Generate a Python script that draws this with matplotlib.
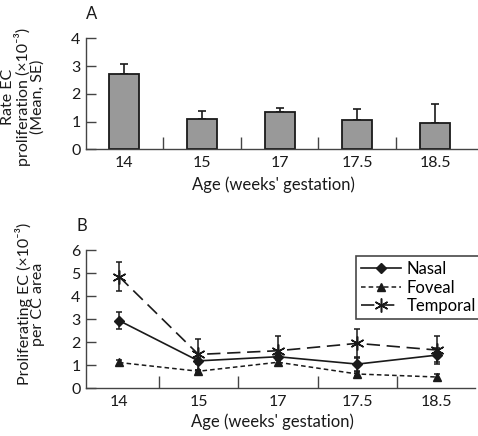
import matplotlib
matplotlib.use("Agg")
import matplotlib.pyplot as plt
import numpy as np
from matplotlib.ticker import FixedLocator

plt.rcParams['font.family'] = ['Lato', 'DejaVu Sans']

ages = ["14", "15", "17", "17.5", "18.5"]

# Panel A
rate_mean = [2.72, 1.09, 1.36, 1.07, 0.95]
rate_se = [0.36, 0.28, 0.14, 0.37, 0.70]

# Panel B
nasal = [2.94, 1.19, 1.37, 1.05, 1.44]
nasal_se = [0.35, 0.12, 0.12, 0.30, 0.32]
foveal = [1.12, 0.74, 1.13, 0.62, 0.49]
foveal_se = [0.10, 0.07, 0.10, 0.09, 0.14]
temporal = [4.85, 1.47, 1.63, 1.95, 1.66]
temporal_se = [0.64, 0.66, 0.62, 0.63, 0.59]

ink = '#1a1a1a'
axcol = '#444444'

fig = plt.figure(figsize=(4.78, 4.36), dpi=100)
axA = fig.add_axes([86/478, 1-149.3/436, 391/478, 111/436])
axB = fig.add_axes([86/478, 1-388.3/436, 389/478, 138.3/436])

x = np.arange(len(ages))

def style(ax, ymax):
    for s in ['top', 'right']:
        ax.spines[s].set_visible(False)
    for s in ['left', 'bottom']:
        ax.spines[s].set_color(axcol)
        ax.spines[s].set_linewidth(1.0)
    ax.set_ylim(0, ymax)
    ax.set_yticks(range(0, ymax+1))
    ax.set_xticks(x)
    ax.set_xticklabels(ages)
    ax.xaxis.set_minor_locator(FixedLocator(x[:-1] + 0.5))
    ax.tick_params(axis='x', which='major', length=0, pad=5, labelsize=11.5, labelcolor=ink)
    ax.tick_params(axis='x', which='minor', length=8.5, direction='in', color=axcol, width=1.0)
    ax.tick_params(axis='y', which='major', length=7, direction='in', color=axcol, width=1.0,
                   pad=4, labelsize=11.5, labelcolor=ink)
    ax.set_xlabel("Age (weeks' gestation)", fontsize=12, color=ink)

# Panel A bars
axA.bar(x, rate_mean, width=0.385, color='#999999', edgecolor=ink, linewidth=1.3, zorder=2)
axA.errorbar(x, rate_mean, yerr=[np.zeros(len(x)), rate_se], fmt='none', ecolor=ink,
             elinewidth=1.2, capsize=3, capthick=1.2, zorder=1)
axA.set_xlim(-0.49, 4.54)
style(axA, 4)
axA.set_ylabel("Rate EC\nproliferation (×10⁻³)\n(Mean, SE)", fontsize=11.5, color=ink,
               linespacing=0.95)
axA.yaxis.set_label_coords(-0.105, 0.47)
axA.xaxis.set_label_coords(0.48, -0.24)
fig.text(92/478, 1-14/436, "A", fontsize=12, color=ink, ha='center', va='center')

# Panel B lines
eb_n = axB.errorbar(x, nasal, yerr=nasal_se, color=ink, linestyle='-', marker='D', markersize=5,
                    elinewidth=1.1, capsize=2.5, capthick=1.1, linewidth=1.2)
eb_f = axB.errorbar(x, foveal, yerr=foveal_se, color=ink, linestyle=(0, (3, 2)), marker='^',
                    markersize=6, elinewidth=1.1, capsize=2.5, capthick=1.1, linewidth=1.1)
eb_t = axB.errorbar(x, temporal, yerr=temporal_se, color=ink, linestyle=(0, (8, 4)),
                    marker=(6, 2, 0), markersize=10, markeredgewidth=1.1, elinewidth=1.1,
                    capsize=2.5, capthick=1.1, linewidth=1.2)
axB.set_xlim(-0.415, 4.48)
style(axB, 6)
axB.set_ylabel("Proliferating EC (×10⁻³)\nper CC area", fontsize=11.5, color=ink,
               linespacing=0.95)
axB.yaxis.set_label_coords(-0.105, 0.61)
axB.xaxis.set_label_coords(0.48, -0.18)
leg = axB.legend([eb_n[0], eb_f[0], eb_t[0]], ['Nasal', 'Foveal', 'Temporal'],
                 loc='upper right', bbox_to_anchor=(1.015, 0.955), fontsize=12, frameon=True,
                 fancybox=False, edgecolor=ink, handlelength=2.4, handletextpad=0.3,
                 borderpad=0.3, labelspacing=0.15, borderaxespad=0.0)
leg.get_frame().set_linewidth(1.2)
fig.text(82/478, 1-226/436, "B", fontsize=12, color=ink, ha='center', va='center')

fig.savefig("out.png", dpi=100)
